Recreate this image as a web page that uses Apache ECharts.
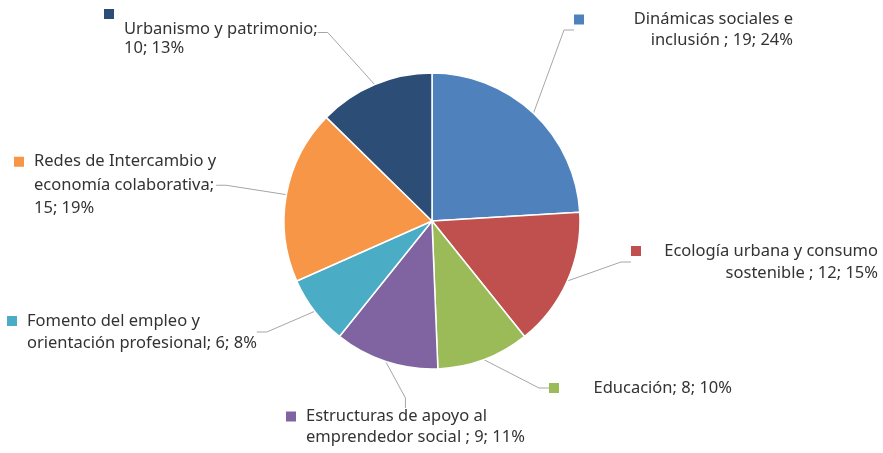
<!DOCTYPE html>
<html>
<head>
<meta charset="utf-8">
<script src="https://cdn.jsdelivr.net/npm/echarts@6/dist/echarts.min.js"></script>
<style>
  html, body { margin: 0; padding: 0; background: #fff; }
  #chart { width: 883px; height: 453px; }
</style>
</head>
<body>
<div id="chart"></div>
<script>
// data
var categories = [
  'Dinámicas sociales e inclusión ',
  'Ecología urbana y consumo sostenible ',
  'Educación',
  'Estructuras de apoyo al emprendedor social ',
  'Fomento del empleo y orientación profesional',
  'Redes de Intercambio y economía colaborativa',
  'Urbanismo y patrimonio'
]
var values = [19, 12, 8, 9, 6, 15, 10]
var colors = ['#4F81BD', '#C0504D', '#9BBB59', '#8064A2', '#4BACC6', '#F79646', '#2C4D75']
// words per label line
var wordsPerLine = [[3, 4], [4, 4], [3], [4, 5], [4, 4], [4, 2, 2], [3, 2]]

// label boxes: [x, y, width, textAlign, keyOnOwnLine, lineHeight]
var labelBoxes = [
  [574, 9, 219, 'right', false, 21],
  [631, 240, 247, 'right', false, 22],
  [549, 377, 183, 'right', false, 22],
  [286, 406, 240, 'left', false, 21],
  [7, 310, 280, 'left', false, 22],
  [14, 150, 230, 'left', false, 23.5],
  [104, 8, 240, 'left', true, 19]
]

var chart = echarts.init(document.getElementById('chart'))

var total = values.reduce(function (a, b) { return a + b }, 0)

var rich = { p: { width: 20 }, g: { width: 10 } }
colors.forEach(function (c, i) {
  var lh = labelBoxes[i][5]
  rich['k' + i] = { width: 10, height: 10, backgroundColor: c, align: 'left', lineHeight: i === 6 ? 12 : lh }
  rich['t' + i] = { fontSize: 16.5, lineHeight: lh, color: '#333333' }
  rich['r' + i] = { fontSize: 16.5, lineHeight: lh, color: '#333333', align: 'right' }
})

var seriesData = categories.map(function (name, i) {
  return { name: name, value: values[i], itemStyle: { color: colors[i] } }
})

chart.setOption({
  animation: false,
  textStyle: { fontFamily: 'Noto Sans' },
  series: [{
    type: 'pie',
    center: [432, 221],
    radius: 148,
    startAngle: 90,
    clockwise: true,
    avoidLabelOverlap: false,
    itemStyle: { borderColor: '#fff', borderWidth: 1.5 },
    label: {
      show: true,
      position: 'outside',
      rich: rich,
      formatter: function (p) {
        var i = p.dataIndex
        var pct = Math.round(p.value / total * 100)
        var words = (p.name + '; ' + p.value + '; ' + pct + '%').split(' ').filter(function (w) { return w !== '' })
        var lines = []
        var k = 0
        wordsPerLine[i].forEach(function (n) {
          lines.push(words.slice(k, k + n).join(' '))
          k += n
        })
        var box = labelBoxes[i]
        var out = []
        if (box[3] === 'right') {
          lines.forEach(function (l, j) {
            out.push((j === 0 ? '{k' + i + '|}' : '') + '{r' + i + '|' + l + '}')
          })
        } else if (box[4]) {
          out.push('{k' + i + '|}')
          lines.forEach(function (l) { out.push('{p|}{t' + i + '|' + l + '}') })
        } else {
          lines.forEach(function (l, j) {
            out.push((j === 0 ? '{k' + i + '|}{g|}' : '{p|}') + '{t' + i + '|' + l + '}')
          })
        }
        return out.join('\n')
      }
    },
    labelLine: { show: true, length: 20, length2: 10, lineStyle: { color: '#A6A6A6', width: 1 } },
    labelLayout: function (params) {
      var b = labelBoxes[params.dataIndex]
      return { x: b[0], y: b[1], width: b[2], align: 'left', verticalAlign: 'top' }
    },
    data: seriesData
  }]
})
</script>
</body>
</html>
